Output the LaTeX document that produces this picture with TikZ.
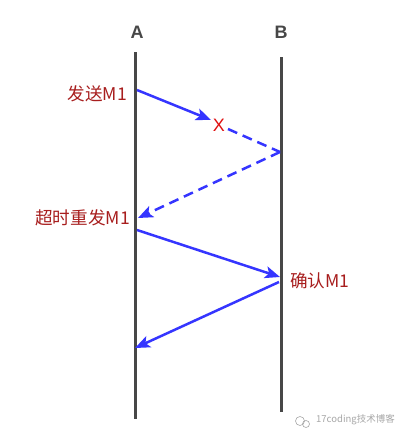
\documentclass[tikz,border=0pt]{standalone}
\usepackage{fontspec}
\setmainfont{Noto Sans CJK SC}
\newfontfamily\latfont{Liberation Sans}
\usetikzlibrary{arrows.meta}
\definecolor{lifeline}{HTML}{474747}
\definecolor{msgblue}{HTML}{3535FF}
\definecolor{lbl}{HTML}{A81E1E}
\definecolor{xred}{HTML}{E01010}
\definecolor{wm}{HTML}{A8A8A8}
\tikzset{
  life/.style={draw=lifeline, line width=3pt},
  msg/.style={draw=msgblue, line width=2.5pt, -{Stealth[length=15pt,width=12pt,inset=3.5pt]}},
  msgplain/.style={draw=msgblue, line width=2.5pt},
  dsh/.style={dash pattern=on 10pt off 6pt},
  head/.style={font=\latfont\bfseries\fontsize{18}{20}\selectfont, text=lifeline, inner sep=0pt},
  lab/.style={font=\fontsize{17.6}{20}\selectfont, text=lbl, inner sep=0pt},
}
\begin{document}
\begin{tikzpicture}[x=1pt,y=-1pt]
\useasboundingbox (0,0) rectangle (412,439);
\fill[white] (0,0) rectangle (412,439);
% lifelines
\coordinate (aTop) at (135,52);
\coordinate (aBot) at (135,419);
\coordinate (bTop) at (281,57);
\coordinate (bBot) at (281,412);
\draw[life] (aTop) -- (aBot);
\draw[life] (bTop) -- (bBot);
\node[head] (hA) at (137,32) {A};
\node[head] (hB) at (281,32) {B};
% points
\coordinate (s1) at (137,90);
\coordinate (t1) at (211,120);
\node[font=\latfont\fontsize{18}{20}\selectfont, text=xred, inner sep=0pt] (x) at (219,125) {X};
\coordinate (d1) at (228,129);
\coordinate (b1) at (280,152);
\coordinate (a2) at (138,218);
\coordinate (s3) at (137,230);
\coordinate (b3) at (280,277);
\coordinate (b4) at (279,282);
\coordinate (a4) at (135,348);
% messages
\draw[msg] (s1) -- (t1);
\draw[msgplain,dsh] (d1) -- (b1);
\draw[msg,dsh] (b1) -- (a2);
\draw[msg] (s3) -- (b3);
\draw[msg] (b4) -- (a4);
% labels
\node[lab, anchor=east] (l1) at (127,94) {发送M1};
\node[lab, anchor=east] (l2) at (130,218) {超时重发M1};
\node[lab, anchor=west] (l3) at (290,281) {确认M1};
% watermark
\node[font=\fontsize{9.5}{11}\selectfont, text=wm, inner sep=0pt, anchor=west] (wmk) at (316,420) {17coding技术博客};
\draw[wm, line width=0.6pt] (300,421) circle[radius=4.5pt];
\draw[wm, line width=0.6pt] (306,424) circle[radius=3.5pt];
\end{tikzpicture}
\end{document}
